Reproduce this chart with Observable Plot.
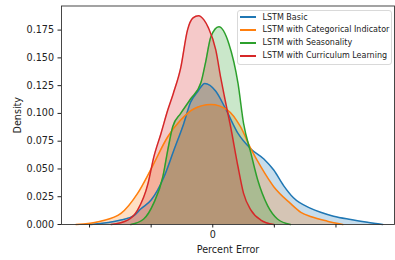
<!DOCTYPE html>
<html><head><meta charset="utf-8">
<script src="https://cdn.jsdelivr.net/npm/d3@7"></script>
<script src="https://cdn.jsdelivr.net/npm/@observablehq/plot@0.6"></script>
<style>
body{margin:0;background:#fff;}
#wrap{position:relative;width:395px;height:260px;font-family:"DejaVu Sans",sans-serif;}
#legend{position:absolute;left:237px;top:9.5px;width:155px;height:55px;box-sizing:border-box;border:1px solid #d9d9d9;border-radius:3px;background:rgba(255,255,255,0.8);font-size:8px;color:#222;}
.row{position:absolute;left:0;height:13px;display:flex;align-items:center;white-space:nowrap;}
.sw{display:inline-block;width:16px;height:2px;margin-left:2px;margin-right:6.5px;}
</style></head><body><div id="wrap"><div id="legend"></div></div>
<script>
const series = ["LSTM Basic", "LSTM with Categorical Indicator", "LSTM with Seasonality", "LSTM with Curriculum Learning"];
const colors = ["#1f77b4", "#ff7f0e", "#2ca02c", "#d62728"];

const basicX = [-1.98, -1.49, -1.28, -1.17, -1.0, -0.79, -0.63, -0.47, -0.36, -0.24, -0.13, 0.05, 0.21, 0.41, 0.62, 0.83, 0.99, 1.15, 1.31, 1.59, 1.75, 1.96, 2.24, 2.51, 2.76];
const basicY = [0, 0.004, 0.008, 0.014, 0.022, 0.043, 0.067, 0.091, 0.110, 0.120, 0.127, 0.120, 0.104, 0.082, 0.068, 0.059, 0.049, 0.035, 0.024, 0.0145, 0.011, 0.0075, 0.0045, 0.002, 0];

const catX = [-2.22, -1.82, -1.49, -1.22, -1.0, -0.73, -0.52, -0.31, -0.03, 0.24, 0.45, 0.62, 0.78, 0.99, 1.26, 1.43, 1.6, 1.86, 2.11];
const catY = [0, 0.003, 0.010, 0.028, 0.050, 0.079, 0.094, 0.104, 0.108, 0.103, 0.088, 0.068, 0.052, 0.034, 0.019, 0.011, 0.007, 0.003, 0];

const seasX = [-1.33, -1.12, -0.96, -0.81, -0.73, -0.65, -0.52, -0.36, -0.19, -0.12, -0.03, 0.10, 0.26, 0.41, 0.50, 0.62, 0.73, 0.89, 1.05, 1.26];
const seasY = [0, 0.005, 0.019, 0.043, 0.067, 0.088, 0.100, 0.113, 0.128, 0.145, 0.169, 0.178, 0.163, 0.127, 0.091, 0.064, 0.040, 0.017, 0.005, 0];

const currX = [-1.65, -1.38, -1.22, -1.05, -0.96, -0.84, -0.73, -0.64, -0.52, -0.41, -0.32, -0.23, -0.14, -0.07, 0.05, 0.13, 0.19, 0.29, 0.41, 0.50, 0.62, 0.78, 0.99];
const currY = [0, 0.004, 0.013, 0.037, 0.060, 0.082, 0.103, 0.118, 0.141, 0.175, 0.186, 0.188, 0.184, 0.177, 0.157, 0.132, 0.115, 0.088, 0.052, 0.028, 0.013, 0.004, 0];

const xTicks = [-2, -1, 0, 1, 2];
const xTickLabels = ["", "", "0", "", ""];
const yTicks = [0, 0.025, 0.05, 0.075, 0.1, 0.125, 0.15, 0.175];

const xs = [basicX, catX, seasX, currX];
const ys = [basicY, catY, seasY, currY];
const rows = [];
series.forEach((s, i) => xs[i].forEach((x, j) => rows.push({series: s, x, y: ys[i][j]})));

const fills = [], lines = [];
series.forEach((s, i) => {
  const d = rows.filter(r => r.series === s);
  fills.push(Plot.areaY(d, {x: "x", y: "y", fill: "series", fillOpacity: 0.25, curve: "monotone-x"}));
  lines.push(Plot.lineY(d, {x: "x", y: "y", stroke: "series", strokeWidth: 1.5, curve: "monotone-x"}));
});

const chart = Plot.plot({
  width: 395, height: 260,
  marginLeft: 61, marginRight: 1, marginTop: 5.5, marginBottom: 36,
  style: {fontFamily: "DejaVu Sans", fontSize: "9.6px", color: "#222", background: "white"},
  x: {domain: [-2.455, 2.95]},
  y: {domain: [0, 0.1967]},
  color: {domain: series, range: colors},
  marks: [
    ...fills,
    ...lines,
    Plot.frame({stroke: "#333", strokeWidth: 0.9}),
    Plot.axisY({ticks: yTicks, tickFormat: d3.format(".3f"), tickSize: 3.5, tickPadding: 4,
      label: "Density", labelAnchor: "center", labelArrow: "none", labelOffset: 47}),
    Plot.axisX({ticks: xTicks, tickFormat: (d, i) => xTickLabels[xTicks.indexOf(d)], tickSize: 3.5, tickPadding: 3,
      label: "Percent Error", labelAnchor: "center", labelArrow: "none", labelOffset: 28})
  ]
});
const wrap = document.getElementById("wrap");
wrap.insertBefore(chart, wrap.firstChild);

const legend = document.getElementById("legend");
series.forEach((s, i) => {
  const r = document.createElement("div");
  r.className = "row";
  r.style.top = (0 + i * 12.9) + "px";
  r.innerHTML = `<span class="sw" style="background:${colors[i]}"></span><span>${s}</span>`;
  legend.appendChild(r);
});
</script>
</body></html>
